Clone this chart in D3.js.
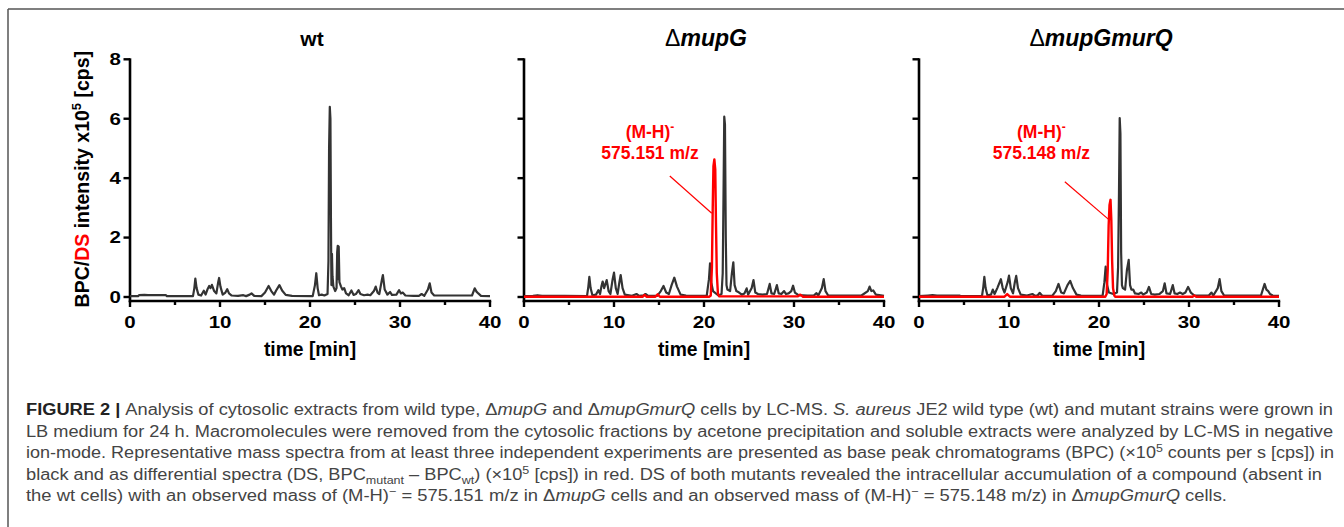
<!DOCTYPE html>
<html><head><meta charset="utf-8">
<script src="https://cdn.jsdelivr.net/npm/d3@7"></script>
<style>body{margin:0;background:#fff;} svg{display:block;}</style>
</head><body>
<svg id="c" width="1344" height="527"></svg>
<script>
// ---------------- DATA ----------------
const xTicks = [0, 10, 20, 30, 40];
const xMinorTicks = [5, 15, 25, 35];
const yTicks = [0, 2, 4, 6, 8];
const panelTitles = ["wt", "mupG", "mupGmurQ"];

// wt BPC (time [min], intensity x10^5)
const wtTime = [0,0.9,1.0,1.6,2.0,4.0,4.1,7.0,7.15,7.26,7.4,7.6,7.9,8.2,8.4,8.6,8.8,8.95,9.1,9.35,9.6,9.8,9.9,10.05,10.3,10.6,10.8,11.0,11.3,12.0,12.6,12.9,13.3,13.5,13.8,14.6,15.0,15.4,15.7,16.0,16.3,16.6,16.9,17.3,18.0,20.3,20.55,20.7,20.85,21.0,21.3,21.6,21.95,22.05,22.12,22.2,22.27,22.33,22.38,22.44,22.5,22.6,22.8,22.95,23.02,23.08,23.13,23.19,23.27,23.45,23.6,23.8,24.0,24.3,24.6,24.85,25.1,25.4,25.6,26.0,26.4,26.7,27.1,27.3,27.5,27.7,28.0,28.1,28.3,28.6,28.9,29.1,29.6,29.9,30.1,30.3,30.6,31.5,32.1,32.4,32.7,33.1,33.3,33.5,33.8,35.9,38.0,38.3,38.5,38.7,39.0,40];
const wtBPC  = [0.03,0.03,0.06,0.07,0.06,0.06,0.03,0.03,0.3,0.62,0.3,0.08,0.05,0.21,0.08,0.25,0.37,0.3,0.41,0.2,0.12,0.5,0.64,0.35,0.08,0.15,0.26,0.12,0.05,0.04,0.06,0.03,0.08,0.12,0.04,0.03,0.15,0.37,0.2,0.08,0.25,0.40,0.22,0.07,0.04,0.03,0.4,0.8,0.3,0.06,0.08,0.05,0.1,1.2,5.0,6.4,6.0,2.5,0.4,1.45,0.7,0.35,0.2,0.3,1.5,1.72,0.6,1.7,0.5,0.35,0.25,0.3,0.12,0.06,0.22,0.07,0.1,0.23,0.1,0.06,0.08,0.06,0.2,0.35,0.15,0.1,0.6,0.74,0.25,0.08,0.17,0.07,0.08,0.23,0.12,0.15,0.05,0.04,0.04,0.1,0.04,0.25,0.46,0.15,0.05,0.05,0.05,0.29,0.18,0.12,0.04,0.03];

// ΔmupG BPC
const mupGTime = [0,1.0,1.5,2.0,4.5,7.0,7.15,7.26,7.4,7.6,8.0,8.26,8.45,8.6,8.74,8.9,9.19,9.4,9.6,9.85,10.0,10.2,10.4,10.6,10.74,10.95,11.2,12.0,12.5,12.8,13.3,13.5,13.8,14.8,15.2,15.5,15.8,16.1,16.4,16.7,17.0,17.4,18.0,19.0,20.3,20.55,20.67,20.8,21.0,21.6,21.95,22.08,22.17,22.25,22.33,22.42,22.5,22.6,22.9,23.1,23.26,23.4,23.6,23.9,24.2,24.5,24.74,24.9,25.3,25.5,25.7,26.0,26.5,27.0,27.3,27.5,27.8,28.1,28.3,28.6,28.9,29.1,29.4,29.7,29.9,30.1,30.5,31.5,32.2,32.5,32.7,33.1,33.3,33.5,33.8,35.0,37.5,38.2,38.4,38.6,38.8,39.1,40];
const mupGBPC  = [0.03,0.04,0.06,0.04,0.04,0.03,0.35,0.68,0.3,0.06,0.08,0.23,0.1,0.35,0.52,0.3,0.57,0.2,0.1,0.6,0.82,0.3,0.1,0.5,0.74,0.3,0.08,0.04,0.1,0.04,0.06,0.1,0.04,0.04,0.2,0.37,0.15,0.1,0.4,0.65,0.35,0.08,0.05,0.04,0.04,0.6,1.13,0.5,0.2,0.05,0.1,0.8,3.5,6.07,5.8,2.0,0.4,0.25,0.2,0.8,1.17,0.4,0.2,0.15,0.08,0.12,0.29,0.08,0.3,0.57,0.15,0.1,0.08,0.1,0.44,0.12,0.1,0.4,0.12,0.1,0.2,0.1,0.12,0.2,0.38,0.15,0.06,0.05,0.05,0.13,0.05,0.3,0.6,0.2,0.05,0.05,0.05,0.2,0.35,0.2,0.22,0.08,0.04];
// ΔmupG DS
const mupGDSTime = [0,13.2,13.4,13.6,14.6,14.85,15.1,20.6,20.75,20.88,20.97,21.05,21.15,21.25,21.33,21.42,21.55,21.7,30.4,30.7,31.0,40];
const mupGDS     = [0.01,0.01,0.07,0.01,0.01,0.09,0.01,0.01,0.05,1.0,3.0,4.4,4.63,4.3,2.5,0.8,0.1,0.02,0.02,0.08,0.01,0.01];

// ΔmupGmurQ BPC
const murQTime = [0,1.0,1.5,2.0,4.5,4.6,7.0,7.15,7.26,7.4,7.6,8.0,8.2,8.4,8.7,9.1,9.3,9.5,9.85,10.0,10.2,10.45,10.65,10.8,11.0,11.3,12.0,12.6,12.9,13.2,13.4,13.7,14.8,15.2,15.5,15.8,16.1,16.5,16.8,17.1,17.5,18.0,20.4,20.6,20.74,20.9,21.1,21.6,22.0,22.12,22.22,22.3,22.38,22.46,22.55,22.65,22.9,23.1,23.3,23.45,23.6,23.8,24.0,24.4,24.7,24.9,25.3,25.55,25.8,26.2,26.7,27.1,27.3,27.5,27.9,28.2,28.4,28.7,29.0,29.3,29.6,29.9,30.2,30.6,31.5,32.2,32.5,32.7,33.2,33.4,33.6,33.9,35.5,38.0,38.2,38.4,38.6,38.8,39.0,39.3,40];
const murQBPC  = [0.03,0.05,0.06,0.05,0.05,0.03,0.03,0.35,0.68,0.3,0.06,0.08,0.25,0.1,0.3,0.6,0.3,0.15,0.5,0.72,0.3,0.12,0.5,0.71,0.3,0.08,0.05,0.1,0.04,0.06,0.14,0.04,0.04,0.2,0.44,0.15,0.12,0.4,0.54,0.3,0.08,0.05,0.04,0.5,1.02,0.4,0.15,0.1,0.15,1.0,3.5,6.02,5.5,1.5,0.4,0.3,0.25,0.9,1.25,0.4,0.25,0.25,0.12,0.1,0.15,0.08,0.15,0.34,0.1,0.08,0.1,0.2,0.46,0.12,0.1,0.4,0.12,0.1,0.15,0.1,0.15,0.34,0.15,0.05,0.05,0.05,0.15,0.05,0.3,0.6,0.2,0.05,0.05,0.05,0.25,0.44,0.25,0.2,0.1,0.05,0.04];
// ΔmupGmurQ DS
const murQDSTime = [0,9.5,9.8,10.1,20.7,20.85,20.97,21.07,21.17,21.28,21.37,21.46,21.56,21.7,21.8,30.4,30.6,30.8,40];
const murQDS     = [0.01,0.01,0.1,0.01,0.01,0.1,0.9,2.4,3.1,3.27,2.6,1.2,0.3,0.05,0.01,0.01,0.05,0.01,0.01];

// annotations: [label line 1, label line 2], text anchor (time, value), pointer line start/end (time, value)
const annotLabels = [["(M-H)", "575.151 m/z"], ["(M-H)", "575.148 m/z"]];
const annotText = [[14.0, 5.2], [13.6, 5.2]];
const annotLineFrom = [[16.2, 4.07], [16.2, 3.88]];
const annotLineTo = [[20.86, 2.82], [21.03, 2.62]];

// ---------------- DRAW ----------------
const svg = d3.select("#c");
const FONT = "'Liberation Sans', Arial, Helvetica, sans-serif";
const BLACK = "#333333", RED = "#ff0000";

// figure frame
svg.append("line").attr("x1", 8).attr("x2", 1344).attr("y1", 9).attr("y2", 9).attr("stroke", "#555").attr("stroke-width", 1.5);
svg.append("line").attr("x1", 8).attr("x2", 8).attr("y1", 9).attr("y2", 527).attr("stroke", "#555").attr("stroke-width", 1.5);

const panels = [
  {x0: 130, bpc: d3.zip(wtTime, wtBPC), ds: null, labels: true},
  {x0: 524, bpc: d3.zip(mupGTime, mupGBPC), ds: d3.zip(mupGDSTime, mupGDS), labels: false, ann: 0},
  {x0: 919, bpc: d3.zip(murQTime, murQBPC), ds: d3.zip(murQDSTime, murQDS), labels: false, ann: 1}
];
const W = 360, Y0 = 297, Y8 = 59.3, AXY = 301;
const SX = 1.28; // horizontal glyph stretch of the original figure

function stretchedText(g, x, y, anchor) {
  return g.append("text").attr("transform", `translate(${x},${y}) scale(${SX},1)`).attr("text-anchor", anchor);
}

panels.forEach((p, i) => {
  const x = d3.scaleLinear().domain([0, 40]).range([p.x0, p.x0 + W]);
  const y = d3.scaleLinear().domain([0, 8]).range([Y0, Y8]);
  const g = svg.append("g");

  // y axis line
  g.append("line").attr("x1", p.x0).attr("x2", p.x0).attr("y1", y(8) - 1).attr("y2", AXY + 1.2)
    .attr("stroke", "#000").attr("stroke-width", 2.6);
  // x axis line
  g.append("line").attr("x1", p.x0 - 1.2).attr("x2", p.x0 + W + 1.2).attr("y1", AXY).attr("y2", AXY)
    .attr("stroke", "#000").attr("stroke-width", 2.6);

  // y ticks
  g.selectAll(".yt").data(yTicks).join("line")
    .attr("x1", p.x0 - 6.5).attr("x2", p.x0).attr("y1", d => y(d)).attr("y2", d => y(d))
    .attr("stroke", "#000").attr("stroke-width", 2.4);
  // x major / minor ticks
  g.selectAll(".xt").data(xTicks).join("line")
    .attr("x1", d => x(d)).attr("x2", d => x(d)).attr("y1", AXY).attr("y2", AXY + 6)
    .attr("stroke", "#000").attr("stroke-width", 2.4);
  g.selectAll(".xm").data(xMinorTicks).join("line")
    .attr("x1", d => x(d)).attr("x2", d => x(d)).attr("y1", AXY).attr("y2", AXY + 4)
    .attr("stroke", "#000").attr("stroke-width", 2.4);

  // x tick labels
  xTicks.forEach(t => {
    stretchedText(g, x(t), 328, "middle").attr("font-family", FONT).attr("font-weight", "bold")
      .attr("font-size", 16).attr("fill", "#000").text(t);
  });
  if (p.labels) {
    yTicks.forEach(t => {
      stretchedText(g, p.x0 - 9, y(t) + 5.8, "end").attr("font-family", FONT).attr("font-weight", "bold")
        .attr("font-size", 16).attr("fill", "#000").text(t);
    });
    // y label
    const yl = g.append("text").attr("transform", `translate(89,${(Y8 + AXY) / 2 - 1}) rotate(-90)`)
      .attr("text-anchor", "middle").attr("font-family", FONT).attr("font-weight", "bold").attr("font-size", 19.5);
    yl.append("tspan").attr("fill", "#000").text("BPC/");
    yl.append("tspan").attr("fill", RED).text("DS");
    yl.append("tspan").attr("fill", "#000").text(" intensity x10");
    yl.append("tspan").attr("fill", "#000").attr("font-size", 13).attr("dy", -8).text("5");
    yl.append("tspan").attr("fill", "#000").attr("dy", 8).text(" [cps]");
  }

  // x axis title
  svg.append("text").attr("x", p.x0 + W / 2).attr("y", 356).attr("text-anchor", "middle")
    .attr("font-family", FONT).attr("font-weight", "bold").attr("font-size", 19.3).attr("fill", "#000").text("time [min]");

  // panel title
  const tt = svg.append("text").attr("x", p.x0 + W / 2 + 2).attr("y", 45.5).attr("text-anchor", "middle")
    .attr("font-family", FONT).attr("font-weight", "bold").attr("font-size", 23).attr("fill", "#000");
  if (i === 0) tt.attr("font-size", 21).text(panelTitles[0]);
  else {
    tt.append("tspan").attr("font-weight", "normal").text("\u0394");
    tt.append("tspan").attr("font-style", "italic").text(panelTitles[i]);
  }

  const line = d3.line().x(d => x(d[0])).y(d => y(d[1]));
  g.append("path").datum(p.bpc).attr("d", line).attr("fill", "none")
    .attr("stroke", BLACK).attr("stroke-width", 2.2).attr("stroke-linejoin", "round");
  if (p.ds) {
    g.append("path").datum(p.ds).attr("d", line).attr("fill", "none")
      .attr("stroke", RED).attr("stroke-width", 2.4).attr("stroke-linejoin", "round");
    const a = p.ann;
    g.append("line").attr("x1", x(annotLineFrom[a][0])).attr("y1", y(annotLineFrom[a][1]))
      .attr("x2", x(annotLineTo[a][0])).attr("y2", y(annotLineTo[a][1]))
      .attr("stroke", RED).attr("stroke-width", 1.2);
    const tx = x(annotText[a][0]), ty = y(annotText[a][1]);
    const t1 = g.append("text").attr("x", tx).attr("y", ty - 4).attr("text-anchor", "middle")
      .attr("font-family", FONT).attr("font-weight", "bold").attr("font-size", 17.5).attr("fill", RED);
    t1.append("tspan").text(annotLabels[a][0]);
    t1.append("tspan").attr("font-size", 12).attr("dy", -7).text("-");
    g.append("text").attr("x", tx).attr("y", ty + 16.5).attr("text-anchor", "middle")
      .attr("font-family", FONT).attr("font-weight", "bold").attr("font-size", 17.5).attr("fill", RED)
      .text(annotLabels[a][1]);
  }
});

// ---------------- CAPTION ----------------
const CF = "'Liberation Sans Narrow', 'Liberation Sans', Arial, sans-serif";
const capLines = [
  [["b","FIGURE 2 | "],["n","Analysis of cytosolic extracts from wild type, \u0394"],["i","mupG"],["n"," and \u0394"],["i","mupGmurQ"],["n"," cells by LC-MS. "],["i","S. aureus"],["n"," JE2 wild type (wt) and mutant strains were grown in"]],
  [["n","LB medium for 24 h. Macromolecules were removed from the cytosolic fractions by acetone precipitation and soluble extracts were analyzed by LC-MS in negative"]],
  [["n","ion-mode. Representative mass spectra from at least three independent experiments are presented as base peak chromatograms (BPC) (\u00d710"],["sup","5"],["n"," counts per s [cps]) in"]],
  [["n","black and as differential spectra (DS, BPC"],["sub","mutant"],["n"," \u2013 BPC"],["sub","wt"],["n",") (\u00d710"],["sup","5"],["n"," [cps]) in red. DS of both mutants revealed the intracellular accumulation of a compound (absent in"]],
  [["n","the wt cells) with an observed mass of (M-H)"],["sup","\u2212"],["n","  = 575.151 m/z in \u0394"],["i","mupG"],["n"," cells and an observed mass of (M-H)"],["sup","\u2212"],["n","  = 575.148 m/z) in \u0394"],["i","mupGmurQ"],["n"," cells."]]
];
const capWidths = [1307, 1307, 1308, 1296, 1201];
const capY = [415, 436.5, 458, 479.5, 501];
capLines.forEach((segs, li) => {
  const t = svg.append("text").attr("x", 26).attr("y", capY[li]).attr("font-family", CF)
    .attr("font-size", 16).attr("fill", "#444")
    .attr("textLength", capWidths[li]).attr("lengthAdjust", "spacingAndGlyphs");
  let shift = 0;
  segs.forEach(([k, s]) => {
    const ts = t.append("tspan").text(s);
    let dy = 0;
    if (k === "b") ts.attr("font-weight", "bold").attr("fill", "#222");
    if (k === "i") ts.attr("font-style", "italic");
    if (k === "sup") { ts.attr("font-size", 11); dy = -6; }
    if (k === "sub") { ts.attr("font-size", 11); dy = 4; }
    ts.attr("dy", dy - shift);
    shift = dy;
  });
});
</script>
</body></html>
